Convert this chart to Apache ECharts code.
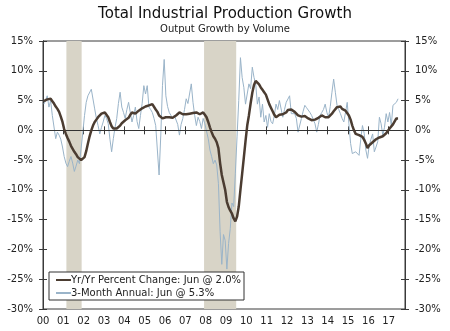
<!DOCTYPE html>
<html><head><meta charset="utf-8">
<script src="https://cdn.jsdelivr.net/npm/echarts@6.0.0/dist/echarts.min.js"></script>
<style>html,body{margin:0;padding:0;background:#fff}#c{width:450px;height:331px}</style>
</head><body><div id="c"></div>
<script>
const startYear = 2000;
const yoyName = 'Yr/Yr Percent Change: Jun @ 2.0%';
const threeName = '3-Month Annual: Jun @ 5.3%';
// Monthly, Jan 2000 - Jun 2017
const yoy = [
 4.9,5.0,5.2,5.0,5.3,4.9,4.5,4.0,3.6,3.1,2.3,1.4,
 0.2,-0.6,-1.3,-1.9,-2.6,-3.1,-3.6,-4.0,-4.5,-4.7,-5.0,-5.2,
 -4.5,-3.5,-2.2,-1.0,0.0,0.8,1.4,1.8,2.2,2.5,2.8,3.0,
 3.0,2.9,2.2,1.4,0.7,0.3,0.2,0.3,0.5,0.8,1.2,1.5,
 1.7,1.9,2.1,2.6,3.0,2.9,2.8,3.0,3.3,3.5,3.7,3.9,
 4.0,4.1,4.2,4.3,4.4,4.2,3.5,3.1,2.5,2.3,2.0,2.1,
 2.2,2.3,2.2,2.3,2.1,2.2,2.5,2.8,3.0,2.9,2.7,2.6,
 2.7,2.6,2.8,3.0,2.9,2.8,3.0,2.9,2.7,2.8,3.0,2.6,
 2.2,1.4,0.5,-0.3,-1.0,-1.4,-2.0,-3.0,-5.5,-7.5,-7.8,-10.0,
 -12.0,-12.9,-13.5,-14.0,-14.8,-15.3,-14.5,-12.8,-10.0,-7.3,-4.6,-1.8,
 0.8,2.5,4.5,6.3,7.6,8.3,8.0,7.7,7.2,6.8,6.4,6.0,
 5.2,4.4,3.8,3.2,2.6,2.2,2.4,2.6,2.5,2.7,2.9,3.0,
 3.4,3.6,3.5,3.3,3.1,2.8,2.5,2.4,2.3,2.2,2.4,2.1,
 2.0,1.9,1.7,1.6,1.8,2.0,2.1,2.3,2.5,2.4,2.2,2.0,
 2.2,2.5,2.8,3.2,3.5,3.9,4.2,4.0,3.6,3.5,3.3,3.0,
 2.5,1.8,0.8,0.0,-0.6,-0.7,-0.8,-0.9,-1.1,-1.6,-2.2,-3.0,
 -2.5,-2.2,-2.0,-1.7,-1.5,-1.4,-1.2,-1.1,-1.0,-0.8,-0.5,-0.2,
 0.3,0.5,1.0,1.5,2.0,2.0
];
const threeMonth = [
 4.4,5.0,5.8,3.9,5.0,2.5,2.8,-1.4,-0.3,-0.8,-1.5,-2.8,
 -4.4,-5.5,-6.1,-5.2,-4.4,-5.5,-6.9,-6.0,-5.0,-5.6,-3.0,-0.3,
 2.5,4.7,5.8,5.5,6.9,7.2,3.6,2.0,0.8,-0.6,0.5,1.4,
 2.5,2.0,1.1,-1.5,-3.6,-1.4,0.5,2.0,4.5,6.4,3.9,3.0,
 2.0,3.5,4.7,3.0,1.4,2.5,3.9,1.5,0.3,2.5,4.5,7.5,
 6.1,7.5,3.9,3.5,3.0,2.0,0.8,0.5,-7.5,-0.8,7.5,11.9,
 5.8,4.0,3.0,2.5,2.0,2.5,2.5,1.0,-0.8,1.0,2.0,3.5,
 5.3,4.5,4.2,7.8,4.7,2.5,0.8,2.2,1.5,0.3,2.0,1.1,
 1.4,-1.4,-3.3,-4.4,-5.6,-5.0,-5.8,-8.9,-17.0,-22.5,-17.5,-18.5,
 -23.3,-19.0,-16.5,-12.2,-12.8,-7.2,-1.1,5.0,12.2,8.9,7.2,4.4,
 6.1,7.8,7.0,10.6,8.9,7.8,4.4,5.6,2.2,4.4,1.4,2.5,
 0.5,2.8,1.5,1.1,2.5,4.4,3.5,5.0,5.0,2.2,3.5,4.7,
 4.4,5.8,2.8,3.0,2.8,2.0,-0.3,-0.5,2.0,3.2,4.2,3.8,
 3.6,3.0,2.5,1.8,1.1,-0.3,1.0,2.5,3.0,3.5,4.4,3.0,
 2.2,4.0,6.4,8.6,6.4,4.2,3.5,2.8,2.0,1.4,3.0,4.7,
 1.1,-2.2,-3.9,-4.2,-3.6,-3.8,-4.2,-1.5,0.8,-0.5,-3.3,-4.7,
 -2.5,-1.5,-0.6,-3.6,-2.8,-1.9,2.2,1.1,-0.8,0.5,2.8,1.4,
 3.0,0.8,4.2,4.0,4.7,5.3
];
const recessions = [[2001.15, 2001.9], [2007.92, 2009.5]];
const yMin = -30, yMax = 15, yStep = 5;
const xMin = 2000, xMax = 2017.8, xStep = 1;

const FONT = 'DejaVu Sans';
const toXY = arr => arr.map((v, i) => [startYear + (i + 0.5) / 12, v]);
const xLabel = v => (Math.abs(v - Math.round(v)) < 1e-6) ? String(Math.round(v) % 100).padStart(2, '0') : '';
const axisCol = '#3a3a3a';
const brown = '#4b3c31', blue = '#9ab4c9';

function xAx(inside, showLabel) {
  return {
    type: 'value', min: xMin, max: xMax, interval: xStep, position: 'bottom',
    axisLine: { show: true, lineStyle: { color: axisCol, width: 1 } },
    axisTick: { show: true, inside: inside, length: 4, lineStyle: { color: axisCol } },
    axisLabel: { show: showLabel, formatter: xLabel, color: '#222', fontSize: 10, fontFamily: FONT, margin: 7, showMaxLabel: false },
    splitLine: { show: false }
  };
}
function yAx(pos, inside, showLabel) {
  return {
    type: 'value', min: yMin, max: yMax, interval: yStep, position: pos,
    axisLine: { show: true, lineStyle: { color: axisCol, width: 1 } },
    axisTick: { show: true, inside: inside, length: 4, lineStyle: { color: axisCol } },
    axisLabel: { show: showLabel, formatter: v => v + '%', color: '#222', fontSize: 10, fontFamily: FONT, margin: 10 },
    splitLine: { show: false }
  };
}

const chart = echarts.init(document.getElementById('c'), null, { renderer: 'canvas' });
chart.setOption({
  animation: false,
  backgroundColor: '#fff',
  title: [
    { text: 'Total Industrial Production Growth', left: 'center', top: 2,
      textStyle: { fontFamily: FONT, fontSize: 15, fontWeight: 'normal', color: '#111' } },
    { text: 'Output Growth by Volume', left: 'center', top: 19,
      textStyle: { fontFamily: FONT, fontSize: 10, fontWeight: 'normal', color: '#222' } }
  ],
  grid: { left: 43, right: 45, top: 41, bottom: 22, show: true, borderColor: axisCol, borderWidth: 1, backgroundColor: 'transparent' },
  xAxis: [xAx(false, true), xAx(true, false)],
  yAxis: [yAx('left', false, true), yAx('left', true, false), yAx('right', false, true), yAx('right', true, false)],
  legend: {
    orient: 'vertical', left: 49, top: 272,
    backgroundColor: '#fff', borderColor: '#333', borderWidth: 1,
    padding: [3, 3, 2, 7], itemGap: 3, itemWidth: 15, itemHeight: 2,
    textStyle: { fontFamily: FONT, fontSize: 10, color: '#222', padding: [0, 0, 0, -5] },
    data: [
      { name: yoyName, icon: 'rect', itemStyle: { color: brown } },
      { name: threeName, icon: 'rect', itemStyle: { color: blue } }
    ]
  },
  series: [
    { name: 'recessions', type: 'line', data: [], xAxisIndex: 0, yAxisIndex: 0,
      markArea: { silent: true, z: 1, itemStyle: { color: '#d8d4c7' },
        data: recessions.map(r => [{ xAxis: r[0] }, { xAxis: r[1] }]) } },
    { name: threeName, type: 'line', data: toXY(threeMonth), xAxisIndex: 0, yAxisIndex: 0,
      symbol: 'none', z: 3, lineStyle: { color: blue, width: 1 }, itemStyle: { color: blue },
      markLine: { silent: true, symbol: 'none', z: 4, label: { show: false },
        lineStyle: { color: '#333', width: 1, type: 'solid' }, data: [{ yAxis: 0 }] } },
    { name: yoyName, type: 'line', data: toXY(yoy), xAxisIndex: 0, yAxisIndex: 0,
      symbol: 'none', z: 5, lineStyle: { color: brown, width: 2.5 }, itemStyle: { color: brown } }
  ]
});
</script>
</body></html>
